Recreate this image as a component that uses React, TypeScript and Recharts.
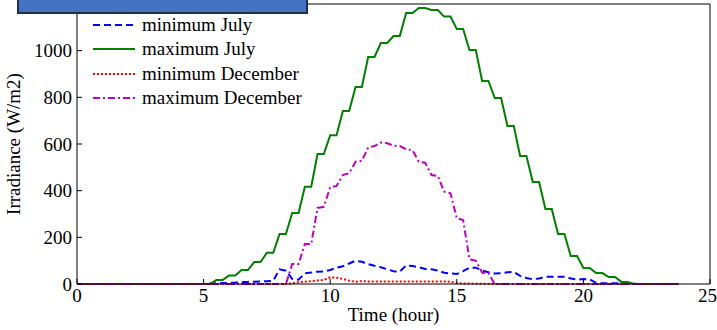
import { LineChart, Line, XAxis, YAxis, Legend, Label } from "recharts";

// time of day, hour (15 min samples)
const hours = [
  0, 0.25, 0.5, 0.75, 1, 1.25, 1.5, 1.75, 2, 2.25, 2.5, 2.75,
  3, 3.25, 3.5, 3.75, 4, 4.25, 4.5, 4.75, 5, 5.25, 5.5, 5.75,
  6, 6.25, 6.5, 6.75, 7, 7.25, 7.5, 7.75, 8, 8.25, 8.5, 8.75,
  9, 9.25, 9.5, 9.75, 10, 10.25, 10.5, 10.75, 11, 11.25, 11.5, 11.75,
  12, 12.25, 12.5, 12.75, 13, 13.25, 13.5, 13.75, 14, 14.25, 14.5, 14.75,
  15, 15.25, 15.5, 15.75, 16, 16.25, 16.5, 16.75, 17, 17.25, 17.5, 17.75,
  18, 18.25, 18.5, 18.75, 19, 19.25, 19.5, 19.75, 20, 20.25, 20.5, 20.75,
  21, 21.25, 21.5, 21.75, 22, 22.25, 22.5, 22.75, 23, 23.25, 23.5, 23.75,
];

const minJuly = [
  0, 0, 0, 0, 0, 0, 0, 0, 0, 0, 0, 0,
  0, 0, 0, 0, 0, 0, 0, 0, 0, 2, 3, 4,
  5, 6, 8, 9, 10, 11, 12, 14, 63, 57, 22, 18,
  46, 49, 53, 54, 60, 70, 76, 88, 100, 95, 85, 78,
  72, 63, 55, 53, 80, 77, 72, 64, 63, 58, 48, 45,
  43, 55, 70, 70, 58, 50, 45, 46, 50, 52, 35, 26,
  20, 24, 31, 31, 31, 31, 24, 19, 21, 20, 5, 3,
  3, 3, 3, 2, 1, 0, 0, 0, 0, 0, 0, 0,
];

const maxJuly = [
  0, 0, 0, 0, 0, 0, 0, 0, 0, 0, 0, 0,
  0, 0, 0, 0, 0, 0, 0, 0, 0, 0, 17, 17,
  36, 36, 60, 60, 94, 94, 134, 134, 214, 214, 304, 304,
  417, 417, 557, 557, 638, 638, 741, 741, 844, 844, 973, 973,
  1033, 1033, 1063, 1063, 1161, 1161, 1183, 1183, 1174, 1174, 1146, 1146,
  1093, 1093, 1003, 1003, 870, 870, 797, 797, 677, 677, 549, 549,
  437, 437, 321, 321, 214, 214, 120, 120, 69, 69, 47, 47,
  30, 30, 9, 9, 0, 0, 0, 0, 0, 0, 0, 0,
];

const minDecember = [
  0, 0, 0, 0, 0, 0, 0, 0, 0, 0, 0, 0,
  0, 0, 0, 0, 0, 0, 0, 0, 0, 0, 0, 0,
  0, 0, 0, 0, 0, 0, 0, 0, 0, 0, 3, 8,
  10, 12, 15, 18, 29, 27, 22, 14, 10, 12, 11, 11,
  11, 11, 11, 11, 11, 11, 11, 11, 11, 11, 11, 10,
  4, 2, 2, 1, 1, 0, 0, 0, 0, 0, 0, 0,
  0, 0, 0, 0, 0, 0, 0, 0, 0, 0, 0, 0,
  0, 0, 0, 0, 0, 0, 0, 0, 0, 0, 0, 0,
];

const maxDecember = [
  0, 0, 0, 0, 0, 0, 0, 0, 0, 0, 0, 0,
  0, 0, 0, 0, 0, 0, 0, 0, 0, 0, 0, 0,
  0, 0, 0, 0, 0, 0, 0, 0, 0, 0, 86, 86,
  171, 171, 326, 331, 415, 420, 467, 475, 524, 528, 585, 591,
  606, 603, 593, 591, 577, 574, 524, 520, 467, 463, 396, 389,
  282, 274, 106, 100, 49, 46, 0, 0, 0, 0, 0, 0,
  0, 0, 0, 0, 0, 0, 0, 0, 0, 0, 0, 0,
  0, 0, 0, 0, 0, 0, 0, 0, 0, 0, 0, 0,
];

const xTicks = [0, 5, 10, 15, 20, 25];
const yTicks = [0, 200, 400, 600, 800, 1000];

const series = [
  { key: "minJuly", name: "minimum July", color: "#0000FF", dash: "7 4" },
  { key: "maxJuly", name: "maximum July", color: "#008000", dash: undefined },
  { key: "minDecember", name: "minimum December", color: "#FF0000", dash: "2 2" },
  { key: "maxDecember", name: "maximum December", color: "#BF00BF", dash: "7 3 2 3" },
];

const data = hours.map((t, i) => ({
  t,
  minJuly: minJuly[i],
  maxJuly: maxJuly[i],
  minDecember: minDecember[i],
  maxDecember: maxDecember[i],
}));

const FONT = '"Liberation Serif", "Times New Roman", serif';
const tickStyle = { fontSize: 19, fill: "#000", fontFamily: FONT };

function LegendBox() {
  return (
    <div style={{ fontFamily: FONT, fontSize: 19, color: "#000" }}>
      {series.map((s) => (
        <div key={s.key} style={{ display: "flex", alignItems: "center", height: 24.3 }}>
          <svg width={42} height={6}>
            <line x1={0} y1={3} x2={42} y2={3} stroke={s.color} strokeWidth={2} strokeDasharray={s.dash} />
          </svg>
          <span style={{ marginLeft: 7, lineHeight: "24px", whiteSpace: "nowrap" }}>{s.name}</span>
        </div>
      ))}
    </div>
  );
}

export default function App() {
  return (
    <div style={{ position: "absolute", left: 0, top: 0, width: 717, height: 330, background: "#fff", overflow: "hidden" }}>
      <LineChart width={717} height={330} data={data} margin={{ top: 3, right: 6, bottom: 0, left: 0 }}>
        <XAxis
          xAxisId="bottom"
          dataKey="t"
          type="number"
          domain={[0, 25]}
          ticks={xTicks}
          height={46}
          tick={tickStyle}
          tickSize={-5}
          tickMargin={10}
          stroke="#000"
        >
          <Label value="Time (hour)" position="insideBottom" offset={9} style={{ fontSize: 19, fill: "#000", fontFamily: FONT }} />
        </XAxis>
        <XAxis
          xAxisId="top"
          orientation="top"
          dataKey="t"
          type="number"
          domain={[0, 25]}
          ticks={xTicks}
          height={1}
          tick={false}
          tickSize={-5}
          stroke="#000"
        />
        <YAxis
          yAxisId="left"
          type="number"
          domain={[0, 1200]}
          ticks={yTicks}
          width={77}
          tick={tickStyle}
          tickSize={-5}
          tickMargin={10}
          stroke="#000"
        >
          <Label
            value="Irradiance (W/m2)"
            angle={-90}
            position="insideLeft"
            offset={13}
            style={{ fontSize: 19, fill: "#000", fontFamily: FONT, textAnchor: "middle" }}
          />
        </YAxis>
        <YAxis
          yAxisId="right"
          orientation="right"
          type="number"
          domain={[0, 1200]}
          ticks={yTicks}
          width={1}
          tick={false}
          tickSize={-5}
          stroke="#000"
        />
        <Legend
          layout="vertical"
          align="center"
          verticalAlign="middle"
          content={() => <LegendBox />}
          wrapperStyle={{ left: 93, top: 13, width: "auto", height: "auto" }}
        />
        {series.map((s) => (
          <Line
            key={s.key}
            xAxisId="bottom"
            yAxisId="left"
            type="linear"
            dataKey={s.key}
            name={s.name}
            stroke={s.color}
            strokeWidth={2}
            strokeDasharray={s.dash}
            dot={false}
            activeDot={false}
            isAnimationActive={false}
          />
        ))}
      </LineChart>
      <div
        style={{
          position: "absolute",
          left: 17,
          top: -20,
          width: 287,
          height: 30,
          background: "#4472C4",
          border: "2px solid #1F2E4D",
        }}
      />
    </div>
  );
}
